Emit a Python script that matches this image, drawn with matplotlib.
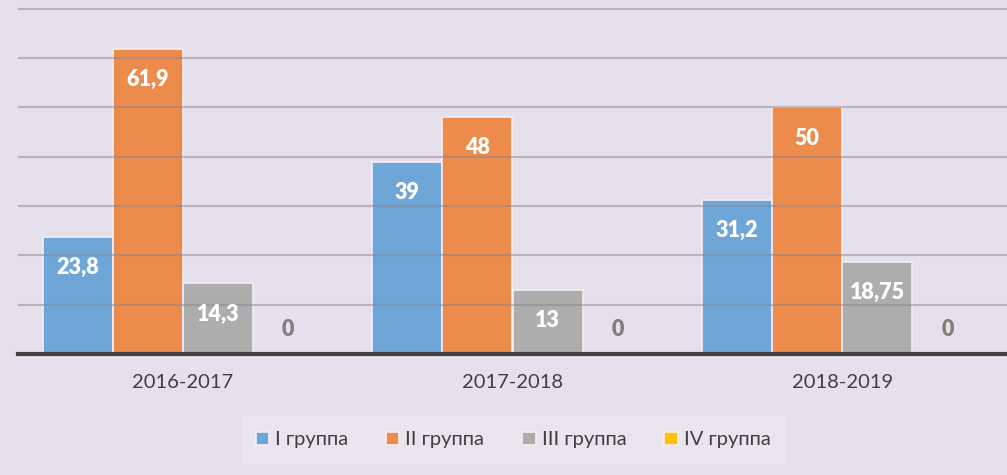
import matplotlib
matplotlib.use("Agg")
import matplotlib.pyplot as plt
import numpy as np

# data
years = ["2016-2017", "2017-2018", "2018-2019"]
groups = ["I группа", "II группа", "III группа", "IV группа"]
g1 = [23.8, 39, 31.2]
g2 = [61.9, 48, 50]
g3 = [14.3, 13, 18.75]
g4 = [0, 0, 0]
labels1 = ["23,8", "39", "31,2"]
labels2 = ["61,9", "48", "50"]
labels3 = ["14,3", "13", "18,75"]
labels4 = ["0", "0", "0"]

colors = ["#6EA6D8", "#EC8B4B", "#ADADAD", "#FFC000"]
bg = "#E6E0EC"

plt.rcParams["font.family"] = ["Lato", "DejaVu Sans"]

fig = plt.figure(figsize=(10.07, 4.75), dpi=100, facecolor=bg)
ax = fig.add_axes([18 / 1007, 1 - 354 / 475, 989 / 1007, 354 / 475])
ax.set_facecolor(bg)

x = np.arange(len(years))
w = 0.2128
series = [g1, g2, g3, g4]
lbls = [labels1, labels2, labels3, labels4]
for i, (vals, lab) in enumerate(zip(series, lbls)):
    pos = x + (i - 1.5) * w
    ax.bar(pos, vals, w, color=colors[i], edgecolor="#F4EEF6", linewidth=1.2,
           zorder=2, label=groups[i])
    for p, v, t in zip(pos, vals, lab):
        if v > 0:
            ax.text(p, v - 6.2, t, ha="center", va="center", color="white",
                    fontsize=15.5, fontweight="heavy", zorder=4)
        else:
            ax.text(p, 4.9, t, ha="center", va="center", color="#7F7F7F",
                    fontsize=15.5, fontweight="heavy", zorder=4)

ax.set_xlim(-0.5, 2.5)
ax.set_ylim(0, 71.8)
ax.set_yticks(np.arange(10, 71, 10))
ax.yaxis.grid(True, color="#8C8591", linewidth=1.5, alpha=0.5, zorder=3)
ax.set_axisbelow(False)
ax.tick_params(axis="y", left=False, labelleft=False)
ax.tick_params(axis="x", bottom=False, pad=11, labelsize=14.5, labelcolor="#404040")
ax.set_xticks(x)
ax.set_xticklabels(years)
for s in ["top", "right", "left"]:
    ax.spines[s].set_visible(False)
ax.spines["bottom"].set_color("#404040")
ax.spines["bottom"].set_linewidth(3)
ax.spines["bottom"].set_zorder(5)

leg = fig.legend(loc="center", bbox_to_anchor=(513 / 1007, 1 - 440 / 475), ncol=4,
                 frameon=True, fontsize=14.5, handlelength=0.65, handleheight=0.65,
                 handletextpad=0.3, columnspacing=1.9, borderpad=0.75,
                 borderaxespad=0)
leg.get_frame().set_facecolor("#EAE6EF")
leg.get_frame().set_edgecolor("none")
leg.get_frame().set_boxstyle("square", pad=0)
for t in leg.get_texts():
    t.set_color("#404040")

fig.savefig("out.png", dpi=100, facecolor=bg)
